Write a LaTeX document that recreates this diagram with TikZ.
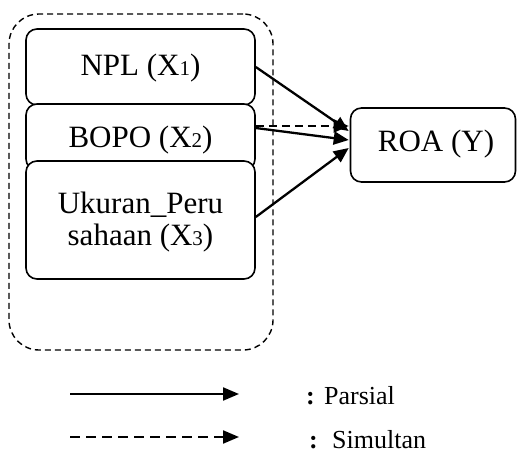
\documentclass[tikz,border=0pt]{standalone}
\usepackage{fontspec}
\setmainfont{Liberation Serif}
\usetikzlibrary{arrows.meta,calc}
\newcommand{\sbn}[1]{{\fontsize{21}{21}\selectfont #1}}
\begin{document}
\begin{tikzpicture}[x=1pt,y=-1pt,
  box/.style={draw,line width=1.6pt,rounded corners=11pt,fill=white,inner sep=0pt,
    align=center,font=\fontsize{31}{32}\selectfont},
  grpbox/.style={draw,line width=1.4pt,dash pattern=on 6pt off 4pt,rounded corners=30pt,inner sep=0pt},
  arr/.style={line width=2.3pt,-{Triangle[length=15pt,width=13pt]}},
  darr/.style={line width=2.3pt,dash pattern=on 8pt off 5pt,-{Triangle[length=15pt,width=13pt]}},
  legarr/.style={line width=2.2pt,-{Triangle[length=16pt,width=13pt]}},
  legdarr/.style={line width=2.2pt,dash pattern=on 10pt off 6pt,-{Triangle[length=16pt,width=13pt]}},
  legtxt/.style={anchor=base west,inner sep=0pt,font=\fontsize{26}{28}\selectfont}]
\useasboundingbox (0,0) rectangle (517,453);
% group box
\node[grpbox,minimum width=264pt,minimum height=336pt] (grp) at (141,182) {};
% variable boxes
\node[box,minimum width=229pt,minimum height=76pt] (npl) at (140.5,67) {};
\node[box,minimum width=229pt,minimum height=66pt] (bopo) at (140.5,137) {};
\node[box,minimum width=229pt,minimum height=118pt] (uk) at (140.5,220) {};
\node[box,minimum width=165pt,minimum height=74pt] (roa) at (433,145) {};
% texts
\node[box,draw=none,fill=none,anchor=base] (nplt) at (140.5,75) {NPL (X\sbn{1})};
\node[box,draw=none,fill=none,anchor=base] (bopot) at (140.5,147) {BOPO (X\sbn{2})};
\node[box,draw=none,fill=none,anchor=base] (ukt1) at (140.5,213) {Ukuran\_Peru};
\node[box,draw=none,fill=none,anchor=base] (ukt2) at (140.5,245) {sahaan (X\sbn{3})};
\node[box,draw=none,fill=none,anchor=base] (roat) at (436,151) {ROA (Y)};
% connectors
\draw[darr] ($(bopo.east)+(0,-11)$) -- ($(roa.west)+(-1,-19)$);
\draw[arr] (npl.east) -- ($(roa.west)+(-1,-14)$);
\draw[arr] ($(bopo.east)+(0,-9)$) -- ($(roa.west)+(-1,-5)$);
\draw[arr] ($(uk.east)+(0,-3)$) -- ($(roa.west)+(-1,3)$);
% legend
\coordinate (l1a) at (70,394);
\coordinate (l1b) at (239,394);
\coordinate (l2a) at (70,437);
\coordinate (l2b) at (239,437);
\draw[legarr] (l1a) -- (l1b);
\draw[legdarr] (l2a) -- (l2b);
\node[legtxt] (c1) at (306,404) {\textbf{:}};
\node[legtxt] (t1) at (324,404) {Parsial};
\node[legtxt] (c2) at (309,448) {\textbf{:}};
\node[legtxt] (t2) at (332,448) {Simultan};
\end{tikzpicture}
\end{document}
